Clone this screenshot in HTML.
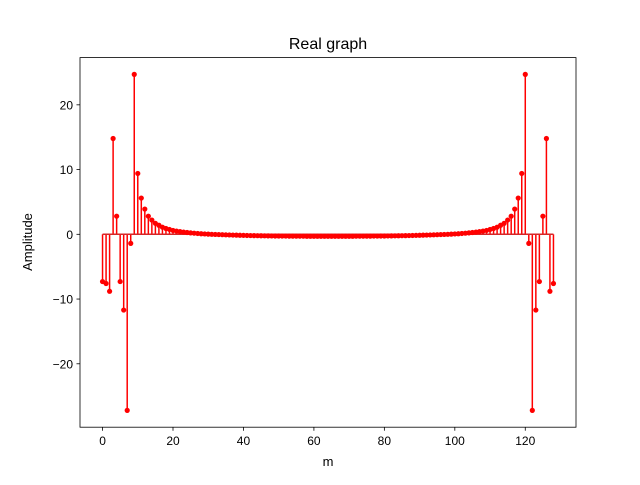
<!DOCTYPE html>
<html><head><meta charset="utf-8"><style>
body{margin:0;background:#fff}
svg{font-family:"Liberation Sans","DejaVu Sans",sans-serif}
</style></head><body>
<svg id="chart" width="640" height="480" viewBox="0 0 640 480" xmlns="http://www.w3.org/2000/svg">
<rect width="640" height="480" fill="#fff"/>
<text x="328" y="49" text-anchor="middle" font-size="16">Real graph</text>
<g id="marks"></g>
<rect x="80" y="57.6" width="496" height="369.6" fill="none" stroke="#000" stroke-width="0.8"/>
<g id="xt"></g><g id="yt"></g>
<text x="328" y="466" text-anchor="middle" font-size="13">m</text>
<text transform="translate(32,242) rotate(-90)" text-anchor="middle" font-size="13">Amplitude</text>
</svg>
<script>
const amplitudes=[-7.3,-7.6,-8.8,14.8,2.8,-7.3,-11.7,-27.2,-1.4,24.7,
9.4,5.6,3.9,2.8,2.2,1.7,1.4,1.1,0.9,0.75,
0.6,0.5,0.42,0.35,0.28,0.22,0.17,0.13,0.09,0.06,
0.03,0.0,-0.02,-0.04,-0.06,-0.08,-0.1,-0.12,-0.13,-0.15,
-0.16,-0.18,-0.19,-0.2,-0.21,-0.22,-0.23,-0.24,-0.25,-0.26,
-0.26,-0.27,-0.27,-0.28,-0.28,-0.29,-0.29,-0.29,-0.3,-0.3,
-0.3,-0.3,-0.3,-0.3,-0.3,
-0.3,-0.3,-0.3,-0.3,-0.3,
-0.3,-0.3,-0.29,-0.29,-0.29,-0.28,-0.28,-0.27,-0.27,-0.26,
-0.26,-0.25,-0.24,-0.23,-0.22,-0.21,-0.2,-0.19,-0.18,-0.16,
-0.15,-0.13,-0.12,-0.1,-0.08,-0.06,-0.04,-0.02,0.0,0.03,
0.06,0.09,0.13,0.17,0.22,0.28,0.35,0.42,0.5,0.6,
0.75,0.9,1.1,1.4,1.7,2.2,2.8,3.9,5.6,9.4,
24.7,-1.4,-27.2,-11.7,-7.3,2.8,14.8,-8.8,-7.6];
const xTicks=[0,20,40,60,80,100,120];
const yTicks=[-20,-10,0,10,20];
const NS="http://www.w3.org/2000/svg";
const n=amplitudes.length;
const xmin=-0.05*(n-1), xmax=(n-1)*1.05;
let lo=Math.min(...amplitudes), hi=Math.max(...amplitudes), pad=(hi-lo)*0.05;
const ymin=lo-pad, ymax=hi+pad;
const X=v=>80+(v-xmin)/(xmax-xmin)*496;
const Y=v=>427.2-(v-ymin)/(ymax-ymin)*369.6;
function mk(tag,at,parent){const e=document.createElementNS(NS,tag);for(const k in at)e.setAttribute(k,at[k]);parent.appendChild(e);return e;}
const g=document.getElementById('marks');
amplitudes.forEach((v,i)=>{
  const l=mk('line',{x1:X(i),x2:X(i),y1:Y(0),y2:Y(v),stroke:'#ff0000','stroke-width':1.5},g);
  
  
});
const b=mk('line',{x1:X(0),x2:X(n-1),y1:Y(0),y2:Y(0),stroke:'#d62728','stroke-width':1.5},g);


amplitudes.forEach((v,i)=>{
  const c=mk('circle',{cx:X(i),cy:Y(v),r:2.6,fill:'#ff0000'},g);
  
  
});
const xt=document.getElementById('xt');
xTicks.forEach(t=>{
  const l=mk('line',{x1:X(t),x2:X(t),y1:427.2,y2:430.7,stroke:'#000','stroke-width':0.8},xt);
  
  
  const s=mk('text',{x:X(t),y:445,'text-anchor':'middle','font-size':12},xt);
  s.textContent=t;
  
  
});
const yt=document.getElementById('yt');
yTicks.forEach(t=>{
  const l=mk('line',{x1:76.5,x2:80,y1:Y(t),y2:Y(t),stroke:'#000','stroke-width':0.8},yt);
  
  
  const s=mk('text',{x:73,y:Y(t)+4.5,'text-anchor':'end','font-size':12},yt);
  s.textContent=t<0?'\u2212'+(-t):t;
  
  
});
</script>
</body></html>
